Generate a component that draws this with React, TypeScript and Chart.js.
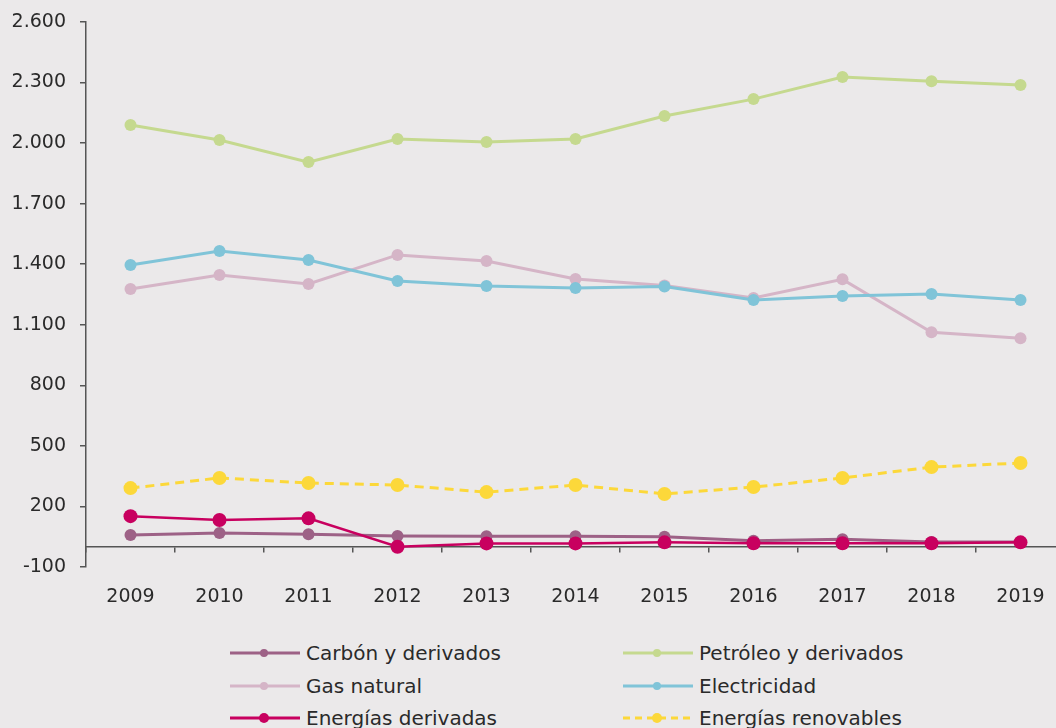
import React, { useEffect, useRef } from "react";
import { Chart, registerables } from "chart.js";

Chart.register(...registerables);

const years = ["2009", "2010", "2011", "2012", "2013", "2014", "2015", "2016", "2017", "2018", "2019"];
const carbon = [58, 68, 62, 54, 52, 52, 50, 30, 38, 24, 24];
const petroleo = [2090, 2015, 1906, 2020, 2005, 2020, 2134, 2218, 2327, 2307, 2288];
const gasNatural = [1277, 1347, 1302, 1446, 1416, 1327, 1295, 1233, 1325, 1063, 1033];
const electricidad = [1396, 1465, 1421, 1317, 1292, 1282, 1290, 1223, 1243, 1252, 1223];
const derivadas = [152, 133, 141, 0, 17, 17, 22, 18, 18, 18, 22];
const renovables = [291, 341, 316, 306, 271, 306, 262, 296, 341, 395, 415];

const yTicks = { min: -100, max: 2600, step: 300 };

const FONT = "'DejaVu Sans', sans-serif";
const TEXT = "#2a2a2a";
const AXIS = "#555555";

const series = [
  { label: "Carbón y derivados", data: carbon, color: "#9d6186", radius: 6, width: 3, dash: [] as number[], order: 5, lr: 4 },
  { label: "Petróleo y derivados", data: petroleo, color: "#c5d98f", radius: 6, width: 3, dash: [] as number[], order: 4, lr: 4 },
  { label: "Gas natural", data: gasNatural, color: "#d5b5c7", radius: 6, width: 3, dash: [] as number[], order: 3, lr: 4 },
  { label: "Electricidad", data: electricidad, color: "#80c4d8", radius: 6, width: 3, dash: [] as number[], order: 2, lr: 4 },
  { label: "Energías derivadas", data: derivadas, color: "#c8005f", radius: 7, width: 2.5, dash: [] as number[], order: 1, lr: 5 },
  { label: "Energías renovables", data: renovables, color: "#fcd83a", radius: 7, width: 3, dash: [9, 6], order: 0, lr: 5 },
];

const fmt = (v: number) => String(v).replace(/\B(?=(\d{3})+(?!\d))/g, ".");

function LegendItem({ s, left, top }: { s: (typeof series)[number]; left: number; top: number }) {
  return (
    <div style={{ position: "absolute", left, top: top - 13, height: 26, display: "flex", alignItems: "center", whiteSpace: "nowrap" }}>
      <svg width={70} height={26} style={{ display: "block" }}>
        <line x1={0} y1={13} x2={70} y2={13} stroke={s.color} strokeWidth={3} strokeDasharray={s.dash.length ? "7 5" : undefined} />
        <circle cx={34} cy={13} r={s.lr} fill={s.color} />
      </svg>
      <span style={{ marginLeft: 6, fontFamily: FONT, fontSize: 20, color: TEXT }}>{s.label}</span>
    </div>
  );
}

export default function App() {
  const ref = useRef<HTMLCanvasElement | null>(null);

  useEffect(() => {
    if (!ref.current) return;
    const chart = new Chart(ref.current, {
      type: "line",
      data: {
        labels: years,
        datasets: series.map((s) => ({
          label: s.label,
          data: s.data,
          borderColor: s.color,
          backgroundColor: s.color,
          pointBackgroundColor: s.color,
          pointBorderColor: s.color,
          pointRadius: s.radius,
          pointBorderWidth: 0,
          borderWidth: s.width,
          borderDash: s.dash,
          tension: 0,
          fill: false,
          order: s.order,
        })),
      },
      options: {
        animation: false,
        responsive: false,
        maintainAspectRatio: false,
        layout: { padding: { top: 22, right: 0, bottom: 0, left: 0 } },
        plugins: { legend: { display: false }, tooltip: { enabled: false } },
        scales: {
          x: {
            type: "category",
            position: "bottom",
            offset: true,
            grid: { display: false },
            border: { display: false },
            ticks: { padding: 11, color: TEXT, font: { family: FONT, size: 19 }, maxRotation: 0 },
            afterFit: (s: any) => {
              s.height = 40;
              s.paddingLeft = 0;
              s.paddingRight = 0;
            },
          },
          x2: {
            type: "category",
            axis: "x",
            position: { y: 0 },
            offset: true,
            grid: { offset: true, drawOnChartArea: false, drawTicks: true, tickLength: 5, color: AXIS, lineWidth: 1.5 },
            border: { display: true, color: AXIS, width: 1.5 },
            ticks: { display: false },
          },
          y: {
            min: yTicks.min,
            max: yTicks.max,
            grid: { drawOnChartArea: false, drawTicks: true, tickLength: 6, color: AXIS, lineWidth: 1.5 },
            border: { display: true, color: AXIS, width: 1.5 },
            ticks: {
              stepSize: yTicks.step,
              padding: 14,
              color: TEXT,
              font: { family: FONT, size: 19 },
              callback: (v: any) => fmt(Number(v)),
            },
            afterFit: (s: any) => {
              s.width = 86;
              s.paddingTop = 0;
              s.paddingBottom = 0;
            },
          },
        } as any,
      },
    });
    return () => chart.destroy();
  }, []);

  return (
    <div style={{ position: "fixed", left: 0, top: 0, width: 1056, height: 728, overflow: "hidden", background: "#ebe9ea" }}>
      <canvas ref={ref} width={1072} height={607} style={{ position: "absolute", left: 0, top: 0, width: 1072, height: 607 }} />
      <LegendItem s={series[0]} left={230} top={653} />
      <LegendItem s={series[1]} left={623} top={653} />
      <LegendItem s={series[2]} left={230} top={686} />
      <LegendItem s={series[3]} left={623} top={686} />
      <LegendItem s={series[4]} left={230} top={718} />
      <LegendItem s={series[5]} left={623} top={718} />
    </div>
  );
}
